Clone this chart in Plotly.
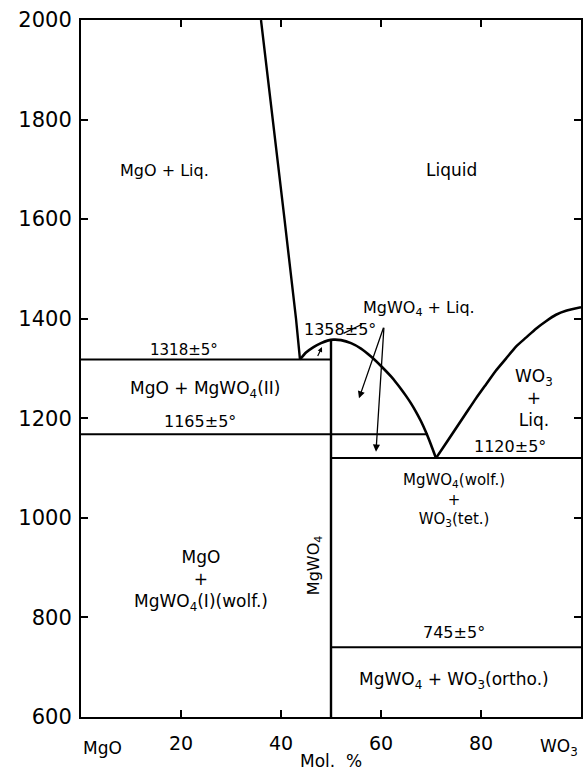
import plotly.graph_objects as go

# ---- data (Mol. % WO3, temperature °C) ----
mgo_liq_x = [36.0, 38.4, 40.7, 43.0, 43.8]
mgo_liq_T = [2000, 1800, 1600, 1400, 1318]

mgwo4_liq_x = [43.8, 45.0, 46.5, 48.0, 49.3, 50.5, 52, 54, 56, 58, 60, 62, 63, 64, 65, 66, 67, 68, 69, 70, 71]
mgwo4_liq_T = [1318, 1332, 1343, 1351, 1356, 1358, 1357, 1351, 1340, 1324, 1305, 1284, 1272, 1259, 1245, 1230, 1213, 1194, 1172, 1147, 1120]

wo3_liq_x = [71, 73, 75, 77, 79, 81, 83, 85, 87, 89, 91, 93, 95, 97, 100]
wo3_liq_T = [1120, 1150, 1180, 1210, 1240, 1268, 1296, 1320, 1344, 1362, 1380, 1395, 1408, 1416, 1423]

iso_1318_x = [0, 50]; iso_1318_T = [1318, 1318]
iso_1165_x = [0, 69.4]; iso_1165_T = [1168, 1168]
iso_1120_x = [50, 100]; iso_1120_T = [1120, 1120]
iso_745_x = [50, 100]; iso_745_T = [740, 740]
mgwo4_x = [50, 50]; mgwo4_T = [600, 1358]

x_ticks = [20, 40, 60, 80]
y_ticks = [600, 800, 1000, 1200, 1400, 1600, 1800, 2000]

FONT = "DejaVu Sans"

fig = go.Figure()
for xs, ts, w, shape in [(mgo_liq_x, mgo_liq_T, 2.4, "linear"),
                         (mgwo4_liq_x, mgwo4_liq_T, 2.6, "spline"),
                         (wo3_liq_x, wo3_liq_T, 2.6, "spline"),
                         (iso_1318_x, iso_1318_T, 2, "linear"),
                         (iso_1165_x, iso_1165_T, 2, "linear"),
                         (iso_1120_x, iso_1120_T, 2, "linear"),
                         (iso_745_x, iso_745_T, 2, "linear"),
                         (mgwo4_x, mgwo4_T, 2.4, "linear")]:
    fig.add_trace(go.Scatter(x=xs, y=ts, mode="lines",
                             line=dict(color="black", width=w, shape=shape, smoothing=0.5),
                             showlegend=False, hoverinfo="skip"))

def label(x, y, text, size=16, angle=0):
    fig.add_annotation(x=x, y=y, text=text, showarrow=False, textangle=angle,
                       font=dict(family=FONT, size=size, color="black"))

label(16.7, 1698, "MgO + Liq.", 16)
label(74, 1698, "Liquid", 17)
label(67.5, 1421, "MgWO<sub>4</sub> + Liq.", 16)
label(51.8, 1378, "1358±5°", 16)
label(20.5, 1337, "1318±5°", 15)
label(24.7, 1258, "MgO + MgWO<sub>4</sub>(II)", 17)
label(23.7, 1194, "1165±5°", 16)
label(24, 875, "MgO<br>+<br>MgWO<sub>4</sub>(I)(wolf.)", 17)
label(46.6, 905, "MgWO<sub>4</sub>", 16, -90)
label(74.5, 1036, "MgWO<sub>4</sub>(wolf.)<br>+<br>WO<sub>3</sub>(tet.)", 15)
label(74.5, 769, "745±5°", 16)
label(74.5, 674, "MgWO<sub>4</sub> + WO<sub>3</sub>(ortho.)", 17)
label(90.6, 1240, "WO<sub>3</sub><br>+<br>Liq.", 17)
label(85.8, 1143, "1120±5°", 16)

# leader line and arrows
fig.add_annotation(x=56.2, y=1389, ax=52.2, ay=1369, xref="x", yref="y", axref="x", ayref="y",
                   showarrow=True, arrowhead=0, arrowwidth=1.2, arrowcolor="black", text="")
for ex, ey in [(55.6, 1240), (59.0, 1133)]:
    fig.add_annotation(x=ex, y=ey, ax=60.6, ay=1385, xref="x", yref="y", axref="x", ayref="y",
                       showarrow=True, arrowhead=2, arrowsize=1.1, arrowwidth=1.3,
                       arrowcolor="black", text="")
fig.add_annotation(x=48.2, y=1343, ax=47.2, ay=1322, xref="x", yref="y", axref="x", ayref="y",
                   showarrow=True, arrowhead=2, arrowsize=0.8, arrowwidth=1.2,
                   arrowcolor="black", text="")

# custom x end labels
fig.add_annotation(x=4.3, y=-0.044, xref="x", yref="paper", text="MgO", showarrow=False,
                   yanchor="middle", font=dict(family=FONT, size=17, color="black"))
fig.add_annotation(x=95.5, y=-0.044, xref="x", yref="paper", text="WO<sub>3</sub>", showarrow=False,
                   yanchor="middle", font=dict(family=FONT, size=17, color="black"))
fig.add_annotation(x=0.5, y=-0.063, xref="paper", yref="paper", text="Mol.  %",
                   yanchor="middle", showarrow=False, font=dict(family=FONT, size=17, color="black"))

axis_common = dict(showgrid=False, zeroline=False, showline=True, linecolor="black",
                   linewidth=2, mirror="ticks", ticks="inside", ticklen=7,
                   tickwidth=1.5, tickcolor="black")
fig.update_xaxes(range=[0, 100], tickvals=x_ticks, ticktext=[str(v) for v in x_ticks],
                 tickfont=dict(family=FONT, size=19, color="black"), ticklabelstandoff=8,
                 **axis_common)
fig.update_yaxes(range=[600, 2000], tickvals=y_ticks, ticktext=[str(v) for v in y_ticks],
                 tickfont=dict(family=FONT, size=21, color="black"), ticklabelstandoff=3,
                 **axis_common)

fig.update_layout(width=585, height=777, margin=dict(l=81, r=2, t=20, b=60),
                  plot_bgcolor="white", paper_bgcolor="white")

fig.write_html("out.html")
